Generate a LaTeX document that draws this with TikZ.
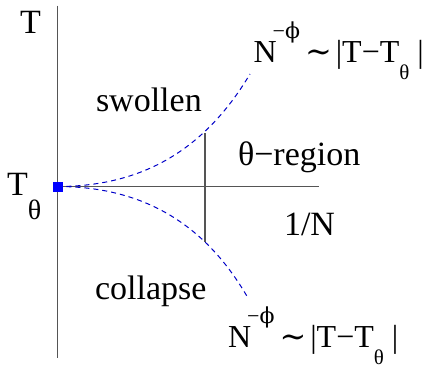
\documentclass[tikz,border=0pt]{standalone}
\usepackage{fontspec}
\setmainfont{Liberation Serif}
\newfontfamily\symfont{DejaVu Serif}
\newcommand\bigtxt{\fontsize{34}{34}\selectfont}
\newcommand\formtxt{\fontsize{32}{32}\selectfont}
\newcommand\suptxt{\fontsize{22}{22}\selectfont}
\newcommand\subtxt{\fontsize{21}{21}\selectfont}
\newcommand\scaleform{\formtxt N\hspace{-4pt}\raisebox{24pt}{\suptxt −{\symfont ϕ}}\hspace{5pt}{\symfont ∼}\hspace{4pt}|T−T\raisebox{-17pt}{\subtxt θ}\hspace{8pt}|}
\definecolor{axisgray}{RGB}{85,85,85}
\definecolor{curveblue}{RGB}{0,0,200}
\tikzset{
  axisline/.style={draw=axisgray, line width=1.1pt},
  curveline/.style={draw=curveblue, line width=1pt, dash pattern=on 5pt off 4pt},
  lbl/.style={anchor=base west, inner sep=0pt, outer sep=0pt, font=\bigtxt},
  marker/.style={fill=blue, draw=none, minimum size=10pt, inner sep=0pt}
}
\begin{document}
\begin{tikzpicture}[x=1pt,y=-1pt]
\useasboundingbox (0,0) rectangle (427,370);
\coordinate (ytop) at (57.5,5.5);
\coordinate (ybot) at (57.5,357.5);
\coordinate (orig) at (57.5,186.5);
\coordinate (xend) at (319,186.5);
\coordinate (segtop) at (205,133);
\coordinate (segbot) at (205,241.5);
\coordinate (uend) at (250,74);
\coordinate (lend) at (248,298);
\draw[axisline] (ytop) -- (ybot);
\draw[axisline] (orig) -- (xend);
\draw[axisline] (segtop) -- (segbot);
\draw[curveline] (orig) .. controls (148,186.5) and (208,144.5) .. (uend);
\draw[curveline] (orig) .. controls (148,186.5) and (208,228.5) .. (lend);
\node[marker] (sq) at (orig) {};
\node[lbl] (tlab) at (20,33) {T};
\node[lbl] (ttheta) at (7,195) {T\raisebox{-24pt}{\fontsize{28}{28}\selectfont θ}};
\node[lbl] (sw) at (96,111.7) {swollen};
\node[lbl] (co) at (95,299.5) {collapse};
\node[lbl] (threg) at (238,165) {θ−region};
\node[lbl] (invn) at (284,235) {1/N};
\node[lbl] (fup) at (253.5,62.7) {\scaleform};
\node[lbl] (flo) at (228,347) {\scaleform};
\end{tikzpicture}
\end{document}
